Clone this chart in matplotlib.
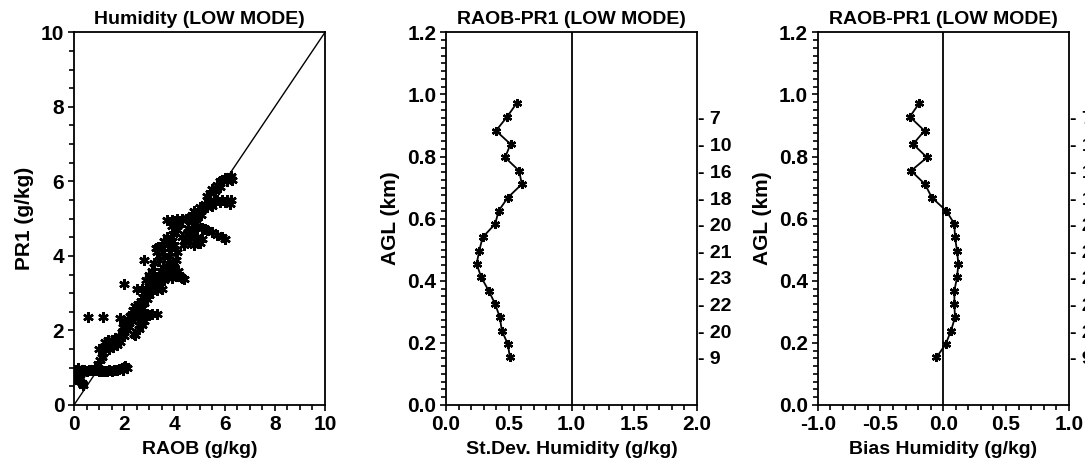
import matplotlib
matplotlib.use("Agg")
import matplotlib.pyplot as plt
import matplotlib.transforms as mtransforms
from matplotlib.ticker import MultipleLocator, FormatStrFormatter

plt.rcParams['font.family'] = ['Liberation Sans', 'DejaVu Sans']
plt.rcParams['font.weight'] = 'bold'

# ---------------- data ----------------
# Panel 1: scatter RAOB vs PR1 (g/kg)
raob = [
    0.0, 0.1, 0.2, 0.3, 0.4, 0.5, 0.6, 0.7, 0.8, 0.9, 1.0,
    0.05, 0.1, 0.15, 0.2, 0.25, 0.3, 0.35, 0.1, 0.2, 0.05, 0.15,
    1.1, 1.2, 1.3, 1.4, 1.5, 1.6, 1.7, 1.8, 1.9, 2.0, 2.1, 1.95, 2.05,
    0.85, 0.95, 1.05, 1.1, 1.0, 1.15, 1.2, 1.25, 1.3, 1.35, 1.4, 1.45, 1.5, 1.55,
    1.6, 1.65, 1.7, 1.75, 1.8, 1.85, 1.9, 1.95, 2.0, 2.05, 2.1, 2.15, 2.2, 2.25,
    2.3, 2.35, 2.4, 2.4, 2.45, 2.5, 2.55, 2.6, 2.65, 2.7, 2.75, 2.8, 2.85, 2.9,
    2.95, 3.0, 3.05, 3.1, 3.15, 3.2,
    0.55, 1.15, 1.85, 2.0, 2.85, 2.8,
    2.3, 2.5, 2.7, 2.9, 3.1, 3.3, 2.6, 3.0,
    2.6, 2.7, 2.8, 2.65,
    2.5, 2.7, 2.9, 3.1, 3.3, 3.5,
    3.1, 3.3, 3.5, 3.7, 3.9, 4.1, 4.3, 4.4, 3.6, 4.0,
    3.2, 3.3, 3.35, 3.4, 3.5, 3.55, 3.6, 3.25, 3.45,
    3.7, 3.75, 3.8, 3.85, 3.9, 3.95, 4.0, 4.05, 4.1, 3.8, 3.9, 4.0, 3.7, 3.75,
    4.15, 4.2, 3.6,
    3.9, 4.0, 4.1, 4.2, 4.3,
    3.7, 3.9, 4.1, 4.3, 4.5, 4.7, 4.8,
    4.3, 4.4, 4.5, 4.6, 4.7, 4.8, 4.9, 5.0, 5.1, 4.55, 4.45, 4.75,
    4.9, 5.1, 5.3, 5.5, 5.7, 5.9, 6.0, 5.2,
    4.6, 4.7, 4.8, 4.9, 5.0, 5.1, 5.2, 5.3, 5.4, 5.5, 4.85, 5.05,
    5.6, 5.7, 5.8, 5.9, 6.0, 6.1, 6.2, 6.25,
    5.3, 5.4, 5.5, 5.6, 5.7, 5.8,
    5.8, 5.9, 6.0, 6.1, 6.2, 6.3, 6.25,
    3.3, 3.4, 3.5, 3.6, 3.2, 3.0, 3.1, 3.0, 2.44,
]
pr1 = [
    0.92, 0.95, 0.90, 0.93, 0.95, 0.92, 0.94, 0.95, 0.93, 0.94, 0.92,
    0.75, 0.70, 0.80, 0.65, 0.72, 0.60, 0.55, 0.85, 0.78, 0.95, 1.00,
    0.90, 0.92, 0.90, 0.93, 0.90, 0.93, 0.95, 0.97, 1.00, 1.02, 1.00, 0.95, 1.05,
    1.00, 1.10, 1.20, 1.30, 1.50, 1.40, 1.55, 1.70, 1.60, 1.75, 1.50, 1.65, 1.75, 1.55,
    1.70, 1.80, 1.60, 1.75, 1.85, 1.70, 1.95, 2.10, 1.85, 2.20, 2.00, 2.30, 2.10, 2.40,
    2.25, 2.55, 1.90, 2.40, 2.65, 2.50, 2.70, 2.55, 2.80, 2.60, 2.90, 2.75, 3.00, 2.85,
    3.10, 2.95, 3.20, 3.05, 3.30, 3.10,
    2.35, 2.35, 2.33, 3.25, 3.35, 3.90,
    2.45, 2.45, 2.45, 2.45, 2.45, 2.45, 2.40, 2.42,
    2.05, 2.15, 2.25, 2.20,
    3.10, 3.10, 3.12, 3.10, 3.08, 3.12,
    3.40, 3.40, 3.42, 3.45, 3.40, 3.45, 3.40, 3.38, 3.35, 3.50,
    3.80, 4.10, 4.25, 3.90, 4.20, 3.70, 4.00, 4.20, 3.60,
    3.60, 3.80, 4.00, 4.20, 4.40, 4.60, 3.70, 3.90, 4.10, 3.55, 3.75, 4.30, 4.50, 4.30,
    3.60, 3.50, 4.40,
    4.80, 4.95, 4.70, 4.85, 5.00,
    4.97, 4.97, 4.98, 4.97, 4.98, 4.97, 4.95,
    4.50, 4.30, 4.60, 4.40, 4.55, 4.30, 4.50, 4.35, 4.45, 4.75, 4.45, 4.70,
    4.80, 4.75, 4.70, 4.65, 4.55, 4.50, 4.45, 4.72,
    5.05, 5.10, 5.20, 5.15, 5.30, 5.25, 5.40, 5.30, 5.45, 5.35, 5.00, 5.10,
    5.45, 5.50, 5.45, 5.50, 5.45, 5.50, 5.40, 5.50,
    5.60, 5.70, 5.80, 5.75, 5.90, 5.85,
    6.00, 6.05, 6.10, 6.00, 6.10, 6.05, 6.15,
    3.25, 3.30, 3.50, 3.55, 3.50, 3.30, 3.60, 3.50, 1.88,
]

# Panels 2 and 3: profiles vs height AGL (km)
agl = [0.971, 0.928, 0.883, 0.840, 0.797, 0.754, 0.711, 0.668, 0.625, 0.583,
       0.540, 0.497, 0.454, 0.411, 0.368, 0.325, 0.282, 0.239, 0.196, 0.153]
stdev = [0.562, 0.487, 0.398, 0.514, 0.471, 0.583, 0.604, 0.493, 0.419, 0.392,
         0.292, 0.265, 0.244, 0.281, 0.340, 0.392, 0.429, 0.445, 0.493, 0.509]
bias = [-0.192, -0.266, -0.149, -0.240, -0.129, -0.256, -0.145, -0.091, 0.025, 0.089,
        0.094, 0.110, 0.121, 0.110, 0.089, 0.089, 0.094, 0.062, 0.020, -0.054]

# sample counts shown at the right of the profile panels
count_heights = [0.918, 0.832, 0.746, 0.660, 0.574, 0.489, 0.403, 0.317, 0.231, 0.145]
counts = [7, 10, 16, 18, 20, 21, 23, 22, 20, 9]

titles = ["Humidity (LOW MODE)", "RAOB-PR1 (LOW MODE)", "RAOB-PR1 (LOW MODE)"]
xlabels = ["RAOB (g/kg)", "St.Dev. Humidity (g/kg)", "Bias Humidity (g/kg)"]
ylabels = ["PR1 (g/kg)", "AGL (km)", "AGL (km)"]

# ---------------- figure ----------------
W, H = 1085, 466
fig = plt.figure(figsize=(W / 100, H / 100), dpi=100)

bottom = (H - 405) / H
height = (405 - 32.3) / H
lefts = [74 / W, 446 / W, 817.7 / W]
width = 251 / W

FS_TICK = 15
FS_LAB = 14
axes = [fig.add_axes([l, bottom, width, height]) for l in lefts]

mk = (6, 2, 0)

def style(ax):
    for s in ax.spines.values():
        s.set_linewidth(1.3)
    ax.tick_params(which='major', direction='out', length=4, width=1.2,
                   labelsize=FS_TICK, pad=3)
    ax.tick_params(which='minor', direction='out', length=3.5, width=1.2)
    for lab in ax.get_xticklabels() + ax.get_yticklabels():
        lab.set_fontweight('bold')

# Panel 1
ax = axes[0]
ax.plot([0, 10], [0, 10], color='black', lw=1.0)
ax.plot(raob, pr1, linestyle='none', marker=mk, markersize=7.5,
        markeredgewidth=1.8, color='black')
ax.set_xlim(0, 10)
ax.set_ylim(0, 10)
ax.xaxis.set_major_locator(MultipleLocator(2))
ax.xaxis.set_minor_locator(MultipleLocator(0.5))
ax.yaxis.set_major_locator(MultipleLocator(2))
ax.yaxis.set_minor_locator(MultipleLocator(0.5))
style(ax)

# Panel 2
ax = axes[1]
ax.axvline(1.0, color='black', lw=1.3)
ax.plot(stdev, agl, color='black', lw=1.3, marker=mk, markersize=6.5,
        markeredgewidth=1.7)
ax.set_xlim(0, 2)
ax.set_ylim(0, 1.2)
ax.xaxis.set_major_locator(MultipleLocator(0.5))
ax.xaxis.set_minor_locator(MultipleLocator(0.1))
ax.xaxis.set_major_formatter(FormatStrFormatter('%.1f'))
style(ax)

# Panel 3
ax = axes[2]
ax.axvline(0.0, color='black', lw=1.3)
ax.plot(bias, agl, color='black', lw=1.3, marker=mk, markersize=6.5,
        markeredgewidth=1.7)
ax.set_xlim(-1, 1)
ax.set_ylim(0, 1.2)
ax.xaxis.set_major_locator(MultipleLocator(0.5))
ax.xaxis.set_minor_locator(MultipleLocator(0.1))
ax.xaxis.set_major_formatter(FormatStrFormatter('%.1f'))
style(ax)

for ax in axes[1:]:
    ax.yaxis.set_major_locator(MultipleLocator(0.2))
    ax.yaxis.set_minor_locator(MultipleLocator(0.025))
    ax.yaxis.set_major_formatter(FormatStrFormatter('%.1f'))
    trans = mtransforms.blended_transform_factory(ax.transAxes, ax.transData)
    for h, c in zip(count_heights, counts):
        ax.text(1.004, h, f"- {c}", transform=trans, ha='left', va='center',
                fontsize=14, fontweight='bold')

for ax, t, xl, yl in zip(axes, titles, xlabels, ylabels):
    ax.set_title(t, fontsize=FS_LAB, fontweight='bold', pad=6)
    ax.set_xlabel(xl, fontsize=FS_LAB, fontweight='bold', labelpad=5)
    ax.set_ylabel(yl, fontsize=FS_LAB + 1, fontweight='bold', labelpad=5)

fig.savefig("out.png", dpi=100)
